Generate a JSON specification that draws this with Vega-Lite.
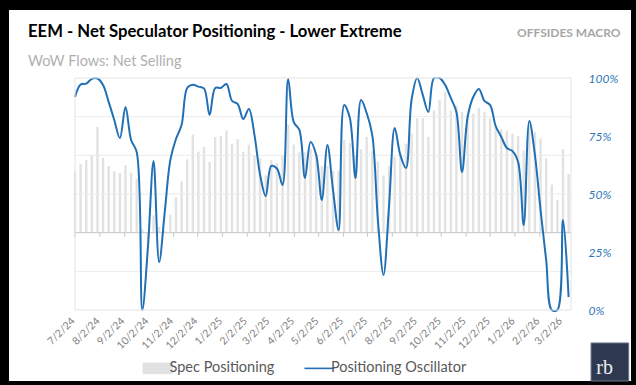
{
  "$schema": "https://vega.github.io/schema/vega-lite/v6.json",
  "width": 622,
  "height": 371,
  "autosize": {"type": "none"},
  "padding": {"left": 9, "top": 10, "right": 5, "bottom": 4},
  "background": "#000000",
  "config": {"font": "Lato", "view": {"fill": "#ffffff", "stroke": null}, "axisX": {"labelOverlap": false}},
  "title": {
    "text": "EEM - Net Speculator Positioning - Lower Extreme",
    "subtitle": "WoW Flows: Net Selling",
    "anchor": "start",
    "frame": "group",
    "dx": 19,
    "dy": 68,
    "offset": 10,
    "font": "Lato",
    "fontSize": 16.7,
    "fontWeight": "bold",
    "color": "#000000",
    "subtitleFont": "Lato",
    "subtitleFontSize": 14.5,
    "subtitleColor": "#b0b0b0",
    "subtitlePadding": 14
  },
  "datasets": {
    "weekly": [
      {"date": "2024-07-02", "spec": 39.7, "osc": 91.8},
      {"date": "2024-07-09", "spec": 44.4, "osc": 97.2},
      {"date": "2024-07-16", "spec": 47, "osc": 97.6},
      {"date": "2024-07-23", "spec": 50, "osc": 99.6},
      {"date": "2024-07-30", "spec": 68.3, "osc": 99.8},
      {"date": "2024-08-06", "spec": 48.3, "osc": 97.0},
      {"date": "2024-08-13", "spec": 43.1, "osc": 89.7},
      {"date": "2024-08-20", "spec": 39.7, "osc": 81.9},
      {"date": "2024-08-27", "spec": 38.6, "osc": 74.1},
      {"date": "2024-09-03", "spec": 43.6, "osc": 87.5},
      {"date": "2024-09-10", "spec": 38.8, "osc": 73.3},
      {"date": "2024-09-17", "spec": 35, "osc": 68.1},
      {"date": "2024-09-24", "spec": 2, "osc": 0},
      {"date": "2024-10-01", "spec": -7, "osc": 27},
      {"date": "2024-10-08", "spec": 11.2, "osc": 64.2},
      {"date": "2024-10-15", "spec": 3.7, "osc": 20.7},
      {"date": "2024-10-22", "spec": 1, "osc": 42.2},
      {"date": "2024-10-29", "spec": 11.6, "osc": 64.7},
      {"date": "2024-11-05", "spec": 23, "osc": 73.7},
      {"date": "2024-11-12", "spec": 33.2, "osc": 79.7},
      {"date": "2024-11-19", "spec": 47.4, "osc": 95.7},
      {"date": "2024-11-26", "spec": 63.4, "osc": 97.1},
      {"date": "2024-12-03", "spec": 52.4, "osc": 96.3},
      {"date": "2024-12-10", "spec": 55.4, "osc": 95.5},
      {"date": "2024-12-17", "spec": 45.7, "osc": 84.1},
      {"date": "2024-12-24", "spec": 61.9, "osc": 95.7},
      {"date": "2024-12-31", "spec": 62.5, "osc": 95.7},
      {"date": "2025-01-07", "spec": 66.2, "osc": 97.4},
      {"date": "2025-01-14", "spec": 57.5, "osc": 90.1},
      {"date": "2025-01-21", "spec": 60.4, "osc": 88.8},
      {"date": "2025-01-28", "spec": 52.2, "osc": 82.3},
      {"date": "2025-02-04", "spec": 56.9, "osc": 86.6},
      {"date": "2025-02-11", "spec": 49.6, "osc": 75.4},
      {"date": "2025-02-18", "spec": 48, "osc": 58.2},
      {"date": "2025-02-25", "spec": 37, "osc": 49.1},
      {"date": "2025-03-04", "spec": 47, "osc": 62.1},
      {"date": "2025-03-11", "spec": 45, "osc": 61},
      {"date": "2025-03-18", "spec": 50, "osc": 53.9},
      {"date": "2025-03-25", "spec": 70, "osc": 99.6},
      {"date": "2025-04-01", "spec": 57, "osc": 81.0},
      {"date": "2025-04-08", "spec": 52, "osc": 77.6},
      {"date": "2025-04-15", "spec": 52, "osc": 56.9},
      {"date": "2025-04-22", "spec": 54, "osc": 72.4},
      {"date": "2025-04-29", "spec": 50, "osc": 66.8},
      {"date": "2025-05-06", "spec": 43, "osc": 47.4},
      {"date": "2025-05-13", "spec": 43, "osc": 71.1},
      {"date": "2025-05-20", "spec": 40, "osc": 51.7},
      {"date": "2025-05-27", "spec": 40, "osc": 34.5},
      {"date": "2025-06-03", "spec": 60, "osc": 88.4},
      {"date": "2025-06-10", "spec": 58, "osc": 82.8},
      {"date": "2025-06-17", "spec": 50, "osc": 56.9},
      {"date": "2025-06-24", "spec": 54, "osc": 90.5},
      {"date": "2025-07-01", "spec": 62, "osc": 84.9},
      {"date": "2025-07-08", "spec": 53, "osc": 75.4},
      {"date": "2025-07-15", "spec": 46, "osc": 38.8},
      {"date": "2025-07-22", "spec": 37, "osc": 15.1},
      {"date": "2025-07-29", "spec": 43, "osc": 45.3},
      {"date": "2025-08-05", "spec": 49, "osc": 78.4},
      {"date": "2025-08-12", "spec": 52, "osc": 66.8},
      {"date": "2025-08-19", "spec": 57.5, "osc": 61.2},
      {"date": "2025-08-26", "spec": 64, "osc": 90.5},
      {"date": "2025-09-02", "spec": 74, "osc": 100},
      {"date": "2025-09-09", "spec": 74, "osc": 92.7},
      {"date": "2025-09-16", "spec": 62, "osc": 85.3},
      {"date": "2025-09-23", "spec": 79, "osc": 100},
      {"date": "2025-09-30", "spec": 86, "osc": 100},
      {"date": "2025-10-07", "spec": 91, "osc": 97.0},
      {"date": "2025-10-14", "spec": 79, "osc": 91.4},
      {"date": "2025-10-21", "spec": 82, "osc": 85.3},
      {"date": "2025-10-28", "spec": 78, "osc": 59.5},
      {"date": "2025-11-04", "spec": 77, "osc": 83.2},
      {"date": "2025-11-11", "spec": 77, "osc": 91.8},
      {"date": "2025-11-18", "spec": 80.5, "osc": 95.3},
      {"date": "2025-11-25", "spec": 78, "osc": 90.1},
      {"date": "2025-12-02", "spec": 74, "osc": 88.4},
      {"date": "2025-12-09", "spec": 68, "osc": 79.3},
      {"date": "2025-12-16", "spec": 67, "osc": 74.6},
      {"date": "2025-12-23", "spec": 66, "osc": 69.8},
      {"date": "2025-12-30", "spec": 64, "osc": 68.5},
      {"date": "2026-01-06", "spec": 62.5, "osc": 63.8},
      {"date": "2026-01-13", "spec": 53, "osc": 36.6},
      {"date": "2026-01-20", "spec": 70, "osc": 81.5},
      {"date": "2026-01-27", "spec": 65, "osc": 66.8},
      {"date": "2026-02-03", "spec": 61, "osc": 43.1},
      {"date": "2026-02-10", "spec": 48, "osc": 21.6},
      {"date": "2026-02-17", "spec": 31, "osc": 0},
      {"date": "2026-02-24", "spec": 21, "osc": 0},
      {"date": "2026-03-03", "spec": 54, "osc": 38.8},
      {"date": "2026-03-10", "spec": 38, "osc": 5.6}
    ],
    "months": [
      {"date": "2024-07-02"}, {"date": "2024-08-02"}, {"date": "2024-09-02"}, {"date": "2024-10-02"},
      {"date": "2024-11-02"}, {"date": "2024-12-02"}, {"date": "2025-01-02"}, {"date": "2025-02-02"},
      {"date": "2025-03-02"}, {"date": "2025-04-02"}, {"date": "2025-05-02"}, {"date": "2025-06-02"},
      {"date": "2025-07-02"}, {"date": "2025-08-02"}, {"date": "2025-09-02"}, {"date": "2025-10-02"},
      {"date": "2025-11-02"}, {"date": "2025-12-02"}, {"date": "2026-01-02"}, {"date": "2026-02-02"},
      {"date": "2026-03-02"}
    ],
    "grid": [{"level": -25}, {"level": 25}, {"level": 50}, {"level": 75}]
  },
  "layer": [
    {
      "data": {"name": "weekly"},
      "mark": {"type": "bar", "width": 2.4},
      "encoding": {
        "x": {
          "field": "date", "type": "temporal", "title": null,
          "scale": {"type": "utc", "domain": ["2024-07-02", "2026-03-13"], "range": [61, 567]},
          "axis": {"values": [{"year": 2024, "month": 7, "date": 2, "utc": true}, {"year": 2024, "month": 8, "date": 2, "utc": true}, {"year": 2024, "month": 9, "date": 2, "utc": true}, {"year": 2024, "month": 10, "date": 2, "utc": true}, {"year": 2024, "month": 11, "date": 2, "utc": true}, {"year": 2024, "month": 12, "date": 2, "utc": true}, {"year": 2025, "month": 1, "date": 2, "utc": true}, {"year": 2025, "month": 2, "date": 2, "utc": true}, {"year": 2025, "month": 3, "date": 2, "utc": true}, {"year": 2025, "month": 4, "date": 2, "utc": true}, {"year": 2025, "month": 5, "date": 2, "utc": true}, {"year": 2025, "month": 6, "date": 2, "utc": true}, {"year": 2025, "month": 7, "date": 2, "utc": true}, {"year": 2025, "month": 8, "date": 2, "utc": true}, {"year": 2025, "month": 9, "date": 2, "utc": true}, {"year": 2025, "month": 10, "date": 2, "utc": true}, {"year": 2025, "month": 11, "date": 2, "utc": true}, {"year": 2025, "month": 12, "date": 2, "utc": true}, {"year": 2026, "month": 1, "date": 2, "utc": true}, {"year": 2026, "month": 2, "date": 2, "utc": true}, {"year": 2026, "month": 3, "date": 2, "utc": true}], "format": "%-m/%-d/%y", "offset": -71, "zindex": 1, "labelAngle": -45, "labelAlign": "right", "labelBaseline": "middle", "labelPadding": 9, "labelOffset": -2, "labelFont": "Lato", "labelFontSize": 10.5, "labelColor": "#7f7f7f", "labelOverlap": false, "labelSeparation": 0, "labelBound": false, "labelFlush": false, "ticks": false, "domain": false, "grid": false, "title": null}
        },
        "y": {"field": "spec", "type": "quantitative", "scale": {"domain": [-50, 100], "range": [300, 68], "nice": false}, "axis": null},
        "color": {
          "datum": "Spec Positioning",
          "type": "nominal",
          "scale": {"domain": ["Spec Positioning", "Positioning Oscillator"], "range": ["#e2e2e2", "#2170b5"]},
          "legend": {
            "title": null, "orient": "none", "legendX": 141.5, "legendY": 351, "direction": "horizontal", "padding": 0,
            "labelFont": "Lato", "labelFontSize": 14.5, "labelColor": "#595959", "symbolSize": 484, "labelOffset": 4.5, "columnPadding": 26.5,
            "encode": {
              "symbols": {
                "update": {
                  "shape": {"signal": "datum.value === 'Spec Positioning' ? 'M-1.35,-0.5H1.35V0.5H-1.35Z' : 'M-1.35,0H1.35'"},
                  "fill": {"signal": "datum.value === 'Spec Positioning' ? '#e6eaf3' : 'transparent'"},
                  "stroke": {"signal": "datum.value === 'Spec Positioning' ? '#e6eaf3' : '#2170b5'"},
                  "strokeWidth": {"signal": "datum.value === 'Spec Positioning' ? 0.5 : 1.6"},
                  "opacity": {"value": 1}
                }
              }
            }
          }
        }
      }
    },
    {
      "data": {"name": "grid"},
      "mark": {"type": "rule", "color": "#ebebeb", "strokeWidth": 1},
      "encoding": {
        "x": {"datum": {"year": 2024, "month": 7, "date": 2, "utc": true}, "type": "temporal", "title": null,
          "axis": {"values": [{"year": 2024, "month": 7, "date": 2, "utc": true}, {"year": 2024, "month": 8, "date": 2, "utc": true}, {"year": 2024, "month": 9, "date": 2, "utc": true}, {"year": 2024, "month": 10, "date": 2, "utc": true}, {"year": 2024, "month": 11, "date": 2, "utc": true}, {"year": 2024, "month": 12, "date": 2, "utc": true}, {"year": 2025, "month": 1, "date": 2, "utc": true}, {"year": 2025, "month": 2, "date": 2, "utc": true}, {"year": 2025, "month": 3, "date": 2, "utc": true}, {"year": 2025, "month": 4, "date": 2, "utc": true}, {"year": 2025, "month": 5, "date": 2, "utc": true}, {"year": 2025, "month": 6, "date": 2, "utc": true}, {"year": 2025, "month": 7, "date": 2, "utc": true}, {"year": 2025, "month": 8, "date": 2, "utc": true}, {"year": 2025, "month": 9, "date": 2, "utc": true}, {"year": 2025, "month": 10, "date": 2, "utc": true}, {"year": 2025, "month": 11, "date": 2, "utc": true}, {"year": 2025, "month": 12, "date": 2, "utc": true}, {"year": 2026, "month": 1, "date": 2, "utc": true}, {"year": 2026, "month": 2, "date": 2, "utc": true}, {"year": 2026, "month": 3, "date": 2, "utc": true}], "format": "%-m/%-d/%y", "offset": -71, "zindex": 1, "labelAngle": -45, "labelAlign": "right", "labelBaseline": "middle", "labelPadding": 9, "labelOffset": -2, "labelFont": "Lato", "labelFontSize": 10.5, "labelColor": "#7f7f7f", "labelOverlap": false, "labelSeparation": 0, "labelBound": false, "labelFlush": false, "ticks": false, "domain": false, "grid": false, "title": null}},
        "x2": {"datum": {"year": 2026, "month": 3, "date": 13, "utc": true}},
        "y": {"field": "level", "type": "quantitative", "scale": {"domain": [-50, 100], "range": [300, 68], "nice": false, "zero": false}, "axis": null}
      }
    },
    {
      "data": {"values": [{}]},
      "mark": {"type": "rule", "color": "#c6c6c6", "strokeWidth": 1},
      "encoding": {
        "x": {"datum": {"year": 2024, "month": 7, "date": 2, "utc": true}, "type": "temporal", "title": null,
          "axis": {"values": [{"year": 2024, "month": 7, "date": 2, "utc": true}, {"year": 2024, "month": 8, "date": 2, "utc": true}, {"year": 2024, "month": 9, "date": 2, "utc": true}, {"year": 2024, "month": 10, "date": 2, "utc": true}, {"year": 2024, "month": 11, "date": 2, "utc": true}, {"year": 2024, "month": 12, "date": 2, "utc": true}, {"year": 2025, "month": 1, "date": 2, "utc": true}, {"year": 2025, "month": 2, "date": 2, "utc": true}, {"year": 2025, "month": 3, "date": 2, "utc": true}, {"year": 2025, "month": 4, "date": 2, "utc": true}, {"year": 2025, "month": 5, "date": 2, "utc": true}, {"year": 2025, "month": 6, "date": 2, "utc": true}, {"year": 2025, "month": 7, "date": 2, "utc": true}, {"year": 2025, "month": 8, "date": 2, "utc": true}, {"year": 2025, "month": 9, "date": 2, "utc": true}, {"year": 2025, "month": 10, "date": 2, "utc": true}, {"year": 2025, "month": 11, "date": 2, "utc": true}, {"year": 2025, "month": 12, "date": 2, "utc": true}, {"year": 2026, "month": 1, "date": 2, "utc": true}, {"year": 2026, "month": 2, "date": 2, "utc": true}, {"year": 2026, "month": 3, "date": 2, "utc": true}], "format": "%-m/%-d/%y", "offset": -71, "zindex": 1, "labelAngle": -45, "labelAlign": "right", "labelBaseline": "middle", "labelPadding": 9, "labelOffset": -2, "labelFont": "Lato", "labelFontSize": 10.5, "labelColor": "#7f7f7f", "labelOverlap": false, "labelSeparation": 0, "labelBound": false, "labelFlush": false, "ticks": false, "domain": false, "grid": false, "title": null}},
        "x2": {"datum": {"year": 2026, "month": 3, "date": 13, "utc": true}},
        "y": {"datum": 0, "type": "quantitative", "scale": {"domain": [-50, 100], "range": [300, 68], "nice": false, "zero": false}, "axis": null}
      }
    },
    {
      "data": {"name": "months"},
      "mark": {"type": "rule", "color": "#c6c6c6", "strokeWidth": 1},
      "encoding": {
        "x": {"field": "date", "type": "temporal", "title": null,
          "axis": {"values": [{"year": 2024, "month": 7, "date": 2, "utc": true}, {"year": 2024, "month": 8, "date": 2, "utc": true}, {"year": 2024, "month": 9, "date": 2, "utc": true}, {"year": 2024, "month": 10, "date": 2, "utc": true}, {"year": 2024, "month": 11, "date": 2, "utc": true}, {"year": 2024, "month": 12, "date": 2, "utc": true}, {"year": 2025, "month": 1, "date": 2, "utc": true}, {"year": 2025, "month": 2, "date": 2, "utc": true}, {"year": 2025, "month": 3, "date": 2, "utc": true}, {"year": 2025, "month": 4, "date": 2, "utc": true}, {"year": 2025, "month": 5, "date": 2, "utc": true}, {"year": 2025, "month": 6, "date": 2, "utc": true}, {"year": 2025, "month": 7, "date": 2, "utc": true}, {"year": 2025, "month": 8, "date": 2, "utc": true}, {"year": 2025, "month": 9, "date": 2, "utc": true}, {"year": 2025, "month": 10, "date": 2, "utc": true}, {"year": 2025, "month": 11, "date": 2, "utc": true}, {"year": 2025, "month": 12, "date": 2, "utc": true}, {"year": 2026, "month": 1, "date": 2, "utc": true}, {"year": 2026, "month": 2, "date": 2, "utc": true}, {"year": 2026, "month": 3, "date": 2, "utc": true}], "format": "%-m/%-d/%y", "offset": -71, "zindex": 1, "labelAngle": -45, "labelAlign": "right", "labelBaseline": "middle", "labelPadding": 9, "labelOffset": -2, "labelFont": "Lato", "labelFontSize": 10.5, "labelColor": "#7f7f7f", "labelOverlap": false, "labelSeparation": 0, "labelBound": false, "labelFlush": false, "ticks": false, "domain": false, "grid": false, "title": null}},
        "y": {"datum": 0, "type": "quantitative", "scale": {"domain": [-50, 100], "range": [300, 68], "nice": false, "zero": false}, "axis": null},
        "y2": {"datum": -2.6}
      }
    },
    {
      "data": {"name": "weekly"},
      "mark": {"type": "line", "interpolate": "catmull-rom", "strokeWidth": 2},
      "encoding": {
        "x": {"field": "date", "type": "temporal", "title": null,
          "axis": {"values": [{"year": 2024, "month": 7, "date": 2, "utc": true}, {"year": 2024, "month": 8, "date": 2, "utc": true}, {"year": 2024, "month": 9, "date": 2, "utc": true}, {"year": 2024, "month": 10, "date": 2, "utc": true}, {"year": 2024, "month": 11, "date": 2, "utc": true}, {"year": 2024, "month": 12, "date": 2, "utc": true}, {"year": 2025, "month": 1, "date": 2, "utc": true}, {"year": 2025, "month": 2, "date": 2, "utc": true}, {"year": 2025, "month": 3, "date": 2, "utc": true}, {"year": 2025, "month": 4, "date": 2, "utc": true}, {"year": 2025, "month": 5, "date": 2, "utc": true}, {"year": 2025, "month": 6, "date": 2, "utc": true}, {"year": 2025, "month": 7, "date": 2, "utc": true}, {"year": 2025, "month": 8, "date": 2, "utc": true}, {"year": 2025, "month": 9, "date": 2, "utc": true}, {"year": 2025, "month": 10, "date": 2, "utc": true}, {"year": 2025, "month": 11, "date": 2, "utc": true}, {"year": 2025, "month": 12, "date": 2, "utc": true}, {"year": 2026, "month": 1, "date": 2, "utc": true}, {"year": 2026, "month": 2, "date": 2, "utc": true}, {"year": 2026, "month": 3, "date": 2, "utc": true}], "format": "%-m/%-d/%y", "offset": -71, "zindex": 1, "labelAngle": -45, "labelAlign": "right", "labelBaseline": "middle", "labelPadding": 9, "labelOffset": -2, "labelFont": "Lato", "labelFontSize": 10.5, "labelColor": "#7f7f7f", "labelOverlap": false, "labelSeparation": 0, "labelBound": false, "labelFlush": false, "ticks": false, "domain": false, "grid": false, "title": null}},
        "y": {
          "field": "osc",
          "type": "quantitative",
          "scale": {"domain": [0, 100], "range": [300, 68], "nice": false},
          "axis": {
            "orient": "right", "offset": -55, "zindex": 1, "values": [0, 25, 50, 75, 100],
            "labelExpr": "datum.value + '%'", "labelFont": "Lato", "labelFontStyle": "italic", "labelFontSize": 12,
            "labelColor": "#2e75b6", "labelPadding": 12, "ticks": false, "domain": false, "grid": false,
            "title": "OFFSIDES MACRO", "titleAngle": 0, "titleAlign": "right", "titleBaseline": "alphabetic",
            "titleX": 44, "titleY": 26, "titleFont": "Lato", "titleFontSize": 12, "titleFontWeight": "bold", "titleColor": "#a6a6a6"
          }
        },
        "color": {"datum": "Positioning Oscillator", "type": "nominal"}
      }
    },
    {
      "data": {"values": [{"band": "below"}, {"band": "above"}]},
      "mark": {"type": "rect", "color": "#ffffff"},
      "encoding": {
        "x": {"datum": {"year": 2024, "month": 6, "date": 28, "utc": true}, "type": "temporal", "title": null,
          "axis": {"values": [{"year": 2024, "month": 7, "date": 2, "utc": true}, {"year": 2024, "month": 8, "date": 2, "utc": true}, {"year": 2024, "month": 9, "date": 2, "utc": true}, {"year": 2024, "month": 10, "date": 2, "utc": true}, {"year": 2024, "month": 11, "date": 2, "utc": true}, {"year": 2024, "month": 12, "date": 2, "utc": true}, {"year": 2025, "month": 1, "date": 2, "utc": true}, {"year": 2025, "month": 2, "date": 2, "utc": true}, {"year": 2025, "month": 3, "date": 2, "utc": true}, {"year": 2025, "month": 4, "date": 2, "utc": true}, {"year": 2025, "month": 5, "date": 2, "utc": true}, {"year": 2025, "month": 6, "date": 2, "utc": true}, {"year": 2025, "month": 7, "date": 2, "utc": true}, {"year": 2025, "month": 8, "date": 2, "utc": true}, {"year": 2025, "month": 9, "date": 2, "utc": true}, {"year": 2025, "month": 10, "date": 2, "utc": true}, {"year": 2025, "month": 11, "date": 2, "utc": true}, {"year": 2025, "month": 12, "date": 2, "utc": true}, {"year": 2026, "month": 1, "date": 2, "utc": true}, {"year": 2026, "month": 2, "date": 2, "utc": true}, {"year": 2026, "month": 3, "date": 2, "utc": true}], "format": "%-m/%-d/%y", "offset": -71, "zindex": 1, "labelAngle": -45, "labelAlign": "right", "labelBaseline": "middle", "labelPadding": 9, "labelOffset": -2, "labelFont": "Lato", "labelFontSize": 10.5, "labelColor": "#7f7f7f", "labelOverlap": false, "labelSeparation": 0, "labelBound": false, "labelFlush": false, "ticks": false, "domain": false, "grid": false, "title": null}},
        "x2": {"datum": {"year": 2026, "month": 3, "date": 17, "utc": true}},
        "y": {"condition": {"test": "datum.band === 'below'", "datum": -50.5}, "datum": 100.5, "type": "quantitative", "scale": {"domain": [-50, 100], "range": [300, 68], "nice": false, "zero": false}, "axis": null},
        "y2": {"condition": {"test": "datum.band === 'below'", "datum": -64}, "datum": 105.5}
      }
    },
    {
      "data": {"values": [{}]},
      "mark": {"type": "rect", "fillOpacity": 0, "stroke": "#e3e3e3", "strokeWidth": 1},
      "encoding": {
        "x": {"datum": {"year": 2024, "month": 7, "date": 2, "utc": true}, "type": "temporal", "title": null,
          "axis": {"values": [{"year": 2024, "month": 7, "date": 2, "utc": true}, {"year": 2024, "month": 8, "date": 2, "utc": true}, {"year": 2024, "month": 9, "date": 2, "utc": true}, {"year": 2024, "month": 10, "date": 2, "utc": true}, {"year": 2024, "month": 11, "date": 2, "utc": true}, {"year": 2024, "month": 12, "date": 2, "utc": true}, {"year": 2025, "month": 1, "date": 2, "utc": true}, {"year": 2025, "month": 2, "date": 2, "utc": true}, {"year": 2025, "month": 3, "date": 2, "utc": true}, {"year": 2025, "month": 4, "date": 2, "utc": true}, {"year": 2025, "month": 5, "date": 2, "utc": true}, {"year": 2025, "month": 6, "date": 2, "utc": true}, {"year": 2025, "month": 7, "date": 2, "utc": true}, {"year": 2025, "month": 8, "date": 2, "utc": true}, {"year": 2025, "month": 9, "date": 2, "utc": true}, {"year": 2025, "month": 10, "date": 2, "utc": true}, {"year": 2025, "month": 11, "date": 2, "utc": true}, {"year": 2025, "month": 12, "date": 2, "utc": true}, {"year": 2026, "month": 1, "date": 2, "utc": true}, {"year": 2026, "month": 2, "date": 2, "utc": true}, {"year": 2026, "month": 3, "date": 2, "utc": true}], "format": "%-m/%-d/%y", "offset": -71, "zindex": 1, "labelAngle": -45, "labelAlign": "right", "labelBaseline": "middle", "labelPadding": 9, "labelOffset": -2, "labelFont": "Lato", "labelFontSize": 10.5, "labelColor": "#7f7f7f", "labelOverlap": false, "labelSeparation": 0, "labelBound": false, "labelFlush": false, "ticks": false, "domain": false, "grid": false, "title": null}},
        "x2": {"datum": {"year": 2026, "month": 3, "date": 13, "utc": true}},
        "y": {"datum": -50, "type": "quantitative", "scale": {"domain": [-50, 100], "range": [300, 68], "nice": false, "zero": false}, "axis": null},
        "y2": {"datum": 100}
      }
    },
    {
      "data": {"values": [{}]},
      "mark": {"type": "rect", "fill": "#2e3850", "stroke": "#6d778a", "strokeWidth": 1},
      "encoding": {
        "x": {"datum": {"year": 2026, "month": 4, "date": 7, "utc": true}, "type": "temporal", "title": null,
          "axis": {"values": [{"year": 2024, "month": 7, "date": 2, "utc": true}, {"year": 2024, "month": 8, "date": 2, "utc": true}, {"year": 2024, "month": 9, "date": 2, "utc": true}, {"year": 2024, "month": 10, "date": 2, "utc": true}, {"year": 2024, "month": 11, "date": 2, "utc": true}, {"year": 2024, "month": 12, "date": 2, "utc": true}, {"year": 2025, "month": 1, "date": 2, "utc": true}, {"year": 2025, "month": 2, "date": 2, "utc": true}, {"year": 2025, "month": 3, "date": 2, "utc": true}, {"year": 2025, "month": 4, "date": 2, "utc": true}, {"year": 2025, "month": 5, "date": 2, "utc": true}, {"year": 2025, "month": 6, "date": 2, "utc": true}, {"year": 2025, "month": 7, "date": 2, "utc": true}, {"year": 2025, "month": 8, "date": 2, "utc": true}, {"year": 2025, "month": 9, "date": 2, "utc": true}, {"year": 2025, "month": 10, "date": 2, "utc": true}, {"year": 2025, "month": 11, "date": 2, "utc": true}, {"year": 2025, "month": 12, "date": 2, "utc": true}, {"year": 2026, "month": 1, "date": 2, "utc": true}, {"year": 2026, "month": 2, "date": 2, "utc": true}, {"year": 2026, "month": 3, "date": 2, "utc": true}], "format": "%-m/%-d/%y", "offset": -71, "zindex": 1, "labelAngle": -45, "labelAlign": "right", "labelBaseline": "middle", "labelPadding": 9, "labelOffset": -2, "labelFont": "Lato", "labelFontSize": 10.5, "labelColor": "#7f7f7f", "labelOverlap": false, "labelSeparation": 0, "labelBound": false, "labelFlush": false, "ticks": false, "domain": false, "grid": false, "title": null}},
        "x2": {"datum": {"year": 2026, "month": 5, "date": 24, "utc": true}},
        "y": {"datum": -71.3, "type": "quantitative", "scale": {"domain": [-50, 100], "range": [300, 68], "nice": false, "zero": false}, "axis": null},
        "y2": {"datum": -95.9}
      }
    },
    {
      "data": {"values": [{"logo": "rb"}]},
      "mark": {"type": "text", "font": "Liberation Serif", "fontSize": 20, "color": "#eeeeee", "align": "center", "baseline": "alphabetic"},
      "encoding": {
        "x": {"datum": {"year": 2026, "month": 4, "date": 24, "utc": true}, "type": "temporal", "title": null,
          "axis": {"values": [{"year": 2024, "month": 7, "date": 2, "utc": true}, {"year": 2024, "month": 8, "date": 2, "utc": true}, {"year": 2024, "month": 9, "date": 2, "utc": true}, {"year": 2024, "month": 10, "date": 2, "utc": true}, {"year": 2024, "month": 11, "date": 2, "utc": true}, {"year": 2024, "month": 12, "date": 2, "utc": true}, {"year": 2025, "month": 1, "date": 2, "utc": true}, {"year": 2025, "month": 2, "date": 2, "utc": true}, {"year": 2025, "month": 3, "date": 2, "utc": true}, {"year": 2025, "month": 4, "date": 2, "utc": true}, {"year": 2025, "month": 5, "date": 2, "utc": true}, {"year": 2025, "month": 6, "date": 2, "utc": true}, {"year": 2025, "month": 7, "date": 2, "utc": true}, {"year": 2025, "month": 8, "date": 2, "utc": true}, {"year": 2025, "month": 9, "date": 2, "utc": true}, {"year": 2025, "month": 10, "date": 2, "utc": true}, {"year": 2025, "month": 11, "date": 2, "utc": true}, {"year": 2025, "month": 12, "date": 2, "utc": true}, {"year": 2026, "month": 1, "date": 2, "utc": true}, {"year": 2026, "month": 2, "date": 2, "utc": true}, {"year": 2026, "month": 3, "date": 2, "utc": true}], "format": "%-m/%-d/%y", "offset": -71, "zindex": 1, "labelAngle": -45, "labelAlign": "right", "labelBaseline": "middle", "labelPadding": 9, "labelOffset": -2, "labelFont": "Lato", "labelFontSize": 10.5, "labelColor": "#7f7f7f", "labelOverlap": false, "labelSeparation": 0, "labelBound": false, "labelFlush": false, "ticks": false, "domain": false, "grid": false, "title": null}},
        "y": {"datum": -91.4, "type": "quantitative", "scale": {"domain": [-50, 100], "range": [300, 68], "nice": false, "zero": false}, "axis": null},
        "text": {"field": "logo"}
      }
    }
  ],
  "resolve": {"scale": {"y": "independent"}}
}
